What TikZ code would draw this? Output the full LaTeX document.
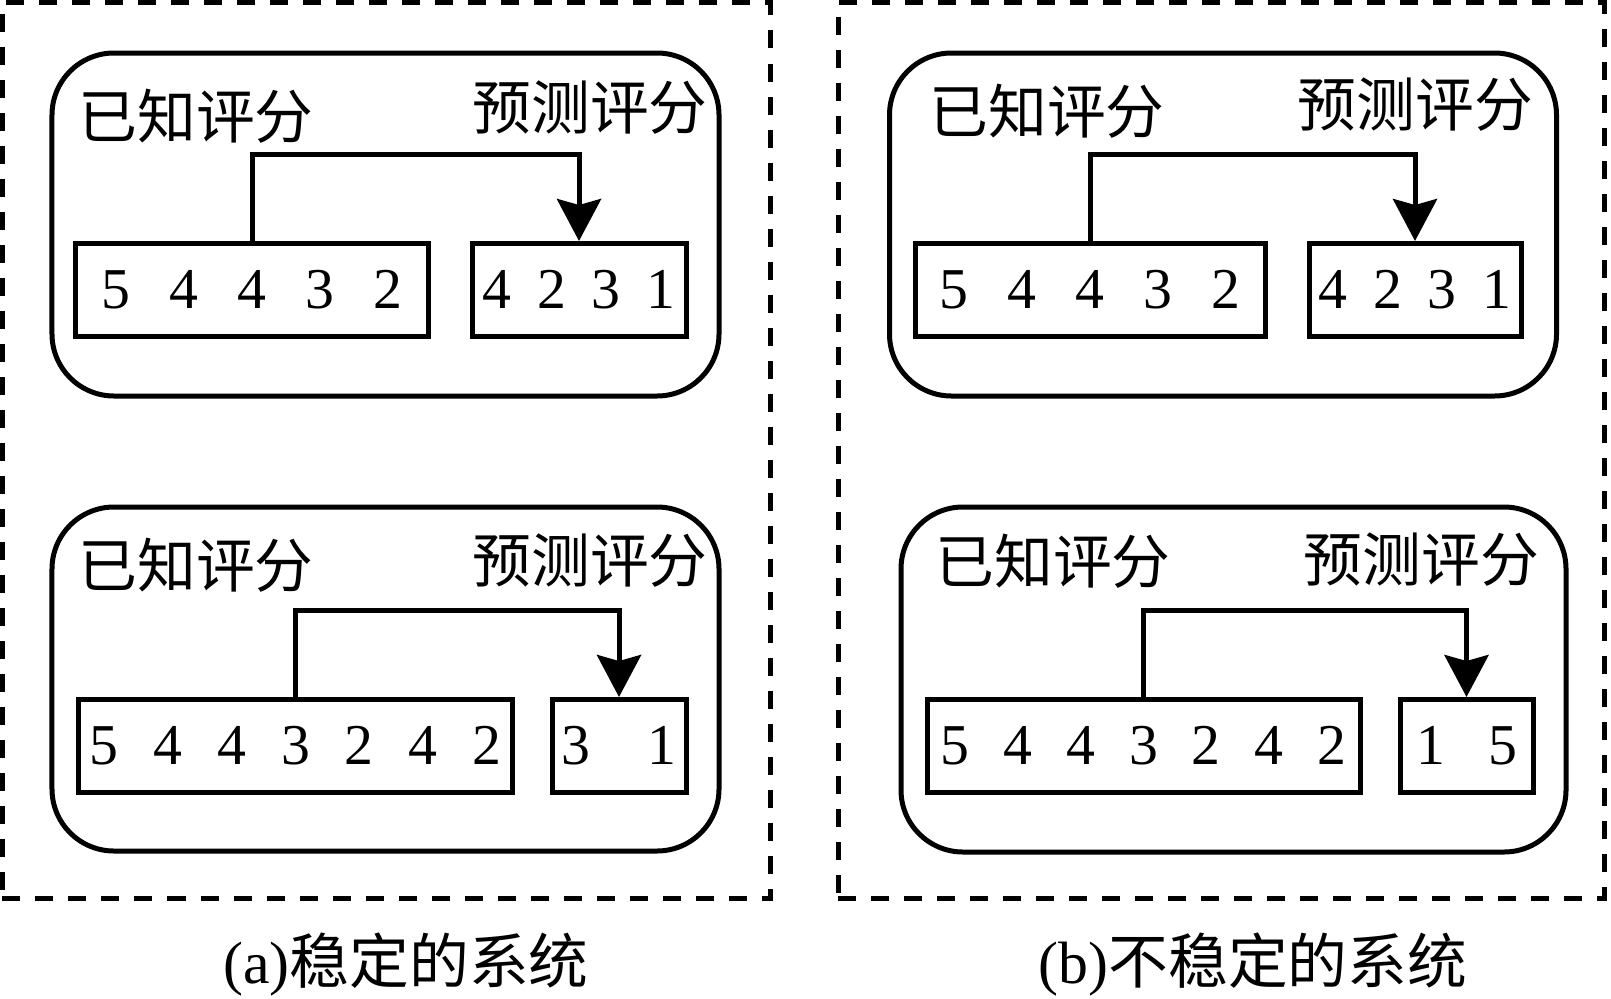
\documentclass[tikz,border=0pt]{standalone}
\usepackage{fontspec}
\setmainfont{Liberation Serif}
\newfontfamily\cjk{Noto Sans CJK SC}
\usetikzlibrary{arrows.meta}
\tikzset{
  panel/.style={draw, line width=5bp, dash pattern=on 18bp off 15bp, inner sep=0pt, minimum height=895.5bp},
  group/.style={draw, line width=5bp, rounded corners=62bp, inner sep=0pt, minimum height=344bp},
  scorebox/.style={draw, line width=5bp, inner sep=0pt, minimum height=93bp,
    font={\fontsize{58}{58}\selectfont\spaceskip=#1\relax}},
  lbl/.style={inner sep=0pt, font={\fontsize{59}{59}\selectfont\cjk}},
  flow/.style={line width=5bp, -{Stealth[length=42bp, width=44bp, inset=6bp]}},
  captxt/.style={inner sep=0pt, anchor=base, font={\fontsize{60}{60}\selectfont}}
}
\begin{document}
\begin{tikzpicture}[x=1bp, y=-1bp]
\useasboundingbox (0,0) rectangle (1611,998);
% panels
\node[panel, minimum width=767.5bp] (frameA) at (386.25,450.25) {};
\node[panel, minimum width=766bp] (frameB) at (1221,450.25) {};
% ---------- panel A, top ----------
\node[group, minimum width=667bp, minimum height=343bp] (gA1) at (385.5,224.5) {};
\node[lbl] (kA1) at (196,116) {已知评分};
\node[lbl] (pA1) at (590,108) {预测评分};
\node[scorebox=39bp, minimum width=352bp] (sA1) at (252,290) {5 4 4 3 2};
\node[scorebox=26bp, minimum width=214bp] (tA1) at (579,290) {4 2 3 1};
\draw[flow] (sA1.north) -- ++(0,-87) -| (tA1.north);
% ---------- panel A, bottom ----------
\node[group, minimum width=667bp] (gA2) at (385.5,679) {};
\node[lbl] (kA2) at (196,565) {已知评分};
\node[lbl] (pA2) at (590,561) {预测评分};
\node[scorebox=35bp, minimum width=434bp] (sA2) at (295.5,746) {5 4 4 3 2 4 2};
\node[scorebox=58bp, minimum width=134bp] (tA2) at (619,746) {3 1};
\draw[flow] (sA2.north) -- ++(0,-87) -| (tA2.north);
% ---------- panel B, top ----------
\node[group, minimum width=667bp, minimum height=343bp] (gB1) at (1223,224.5) {};
\node[lbl] (kB1) at (1047,111) {已知评分};
\node[lbl] (pB1) at (1415.5,105) {预测评分};
\node[scorebox=39bp, minimum width=350bp] (sB1) at (1090,290) {5 4 4 3 2};
\node[scorebox=26bp, minimum width=212bp] (tB1) at (1415,290) {4 2 3 1};
\draw[flow] (sB1.north) -- ++(0,-87) -| (tB1.north);
% ---------- panel B, bottom ----------
\node[group, minimum width=665bp, minimum height=345bp] (gB2) at (1233.5,679.5) {};
\node[lbl] (kB2) at (1053,561) {已知评分};
\node[lbl] (pB2) at (1421.5,560) {预测评分};
\node[scorebox=34bp, minimum width=433bp] (sB2) at (1143.5,746) {5 4 4 3 2 4 2};
\node[scorebox=43bp, minimum width=133bp] (tB2) at (1466.5,746) {1 5};
\draw[flow] (sB2.north) -- ++(0,-87) -| (tB2.north);
% captions
\node[captxt] (capA) at (406,983) {(a){\cjk 稳定的系统}};
\node[captxt] (capB) at (1253,983) {(b){\cjk 不稳定的系统}};
\end{tikzpicture}
\end{document}
